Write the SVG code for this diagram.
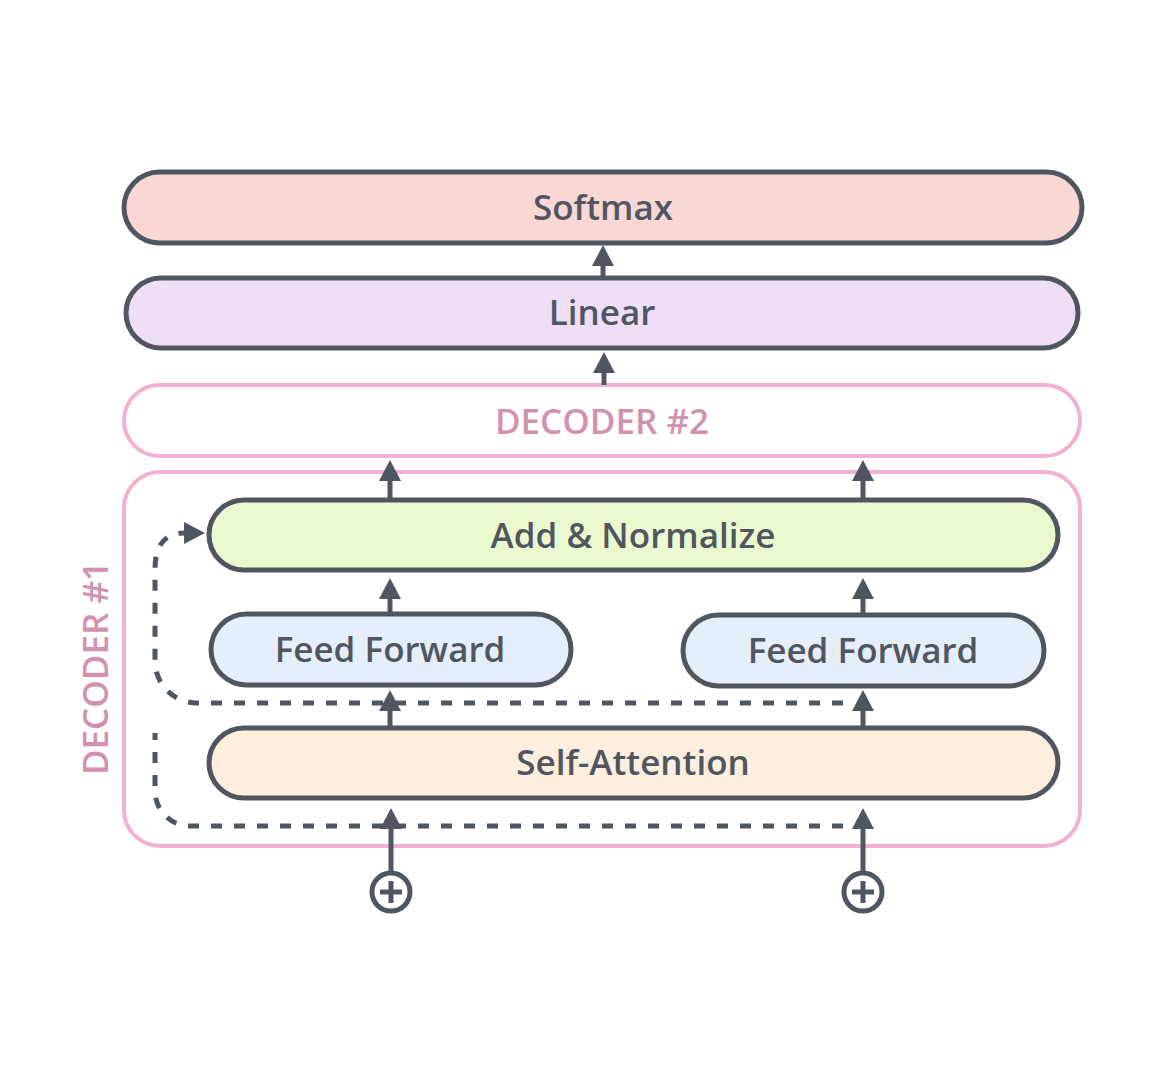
<svg xmlns="http://www.w3.org/2000/svg" width="1174" height="1084" viewBox="0 0 1174 1084">
<defs>
<style>
.box{stroke:#50565f;stroke-width:5}
.dec{fill:#ffffff;stroke:#f2b1d0;stroke-width:4}
.lbl{font-family:"Open Sans","Noto Sans","Liberation Sans",sans-serif;font-size:35px;font-weight:600;fill:#50565f;text-anchor:middle}
.plbl{font-family:"Open Sans","Noto Sans","Liberation Sans",sans-serif;font-size:35px;font-weight:600;fill:#d391b0;text-anchor:middle}
.arr{fill:none;stroke:#50565f;stroke-width:5;marker-end:url(#ah)}
.dash{fill:none;stroke:#50565f;stroke-width:5;stroke-dasharray:11 12}
.dasharr{marker-end:url(#ah)}
.plus{fill:#ffffff;stroke:#50565f;stroke-width:5}
</style>
<marker id="ah" markerUnits="userSpaceOnUse" markerWidth="24" markerHeight="24" viewBox="0 -12 22 24" refX="0" refY="0" orient="auto">
<path d="M0,-11 L21,0 L0,11 Z" fill="#50565f"/>
</marker>
</defs>
<rect width="1174" height="1084" fill="#ffffff"/>

<g id="decoder1">
<rect class="dec" x="124" y="472" width="956" height="374" rx="36"/>
<text class="plbl" transform="translate(108,668) rotate(-90)">DECODER #1</text>
</g>

<g id="softmax">
<rect class="box" x="124" y="172" width="958" height="71" rx="35.5" fill="#f8d7d5"/>
<text class="lbl" x="603" y="220">Softmax</text>
</g>
<g id="linear">
<rect class="box" x="126" y="278" width="952" height="70" rx="35" fill="#efdef8"/>
<text class="lbl" x="602" y="325">Linear</text>
</g>
<g id="decoder2">
<rect class="dec" x="124" y="385" width="956" height="71" rx="35.5"/>
<text class="plbl" x="602" y="434">DECODER #2</text>
</g>
<g id="addnorm">
<rect class="box" x="209" y="500" width="849" height="70" rx="35" fill="#ebf9cf"/>
<text class="lbl" x="633" y="548">Add &amp; Normalize</text>
</g>
<g id="ff1">
<rect class="box" x="211" y="614" width="360" height="71" rx="35.5" fill="#e5effc"/>
<text class="lbl" x="390" y="662">Feed Forward</text>
</g>
<g id="ff2">
<rect class="box" x="683" y="615" width="361" height="71" rx="35.5" fill="#e5effc"/>
<text class="lbl" x="863" y="663">Feed Forward</text>
</g>
<g id="selfattn">
<rect class="box" x="209" y="728" width="849" height="70" rx="35" fill="#fdeedd"/>
<text class="lbl" x="633" y="775">Self-Attention</text>
</g>
<g id="in1">
<circle class="plus" cx="391" cy="892" r="19"/>
<path d="M380,892 H402 M391,881 V903" stroke="#50565f" stroke-width="5"/>
</g>
<g id="in2">
<circle class="plus" cx="863" cy="892" r="19"/>
<path d="M852,892 H874 M863,881 V903" stroke="#50565f" stroke-width="5"/>
</g>

<g id="connectors">
<path class="arr" d="M603,278 V266"/>
<path class="arr" d="M604,385 V373"/>
<path class="arr" d="M390,500 V481"/>
<path class="arr" d="M863,500 V481"/>
<path class="arr" d="M390,614 V599"/>
<path class="arr" d="M863,615 V599"/>
<path class="arr" d="M390,728 V711"/>
<path class="arr" d="M863,728 V711"/>
<path class="arr" d="M391,873 V829"/>
<path class="arr" d="M863,873 V829"/>
<path class="dash" d="M843,826 H190 A35,35 0 0 1 155,791 V733"/>
<path class="dash dasharr" d="M843,703 H197 A42,42 0 0 1 155,661 V570 Q155,533 184,533"/>
</g>
</svg>
